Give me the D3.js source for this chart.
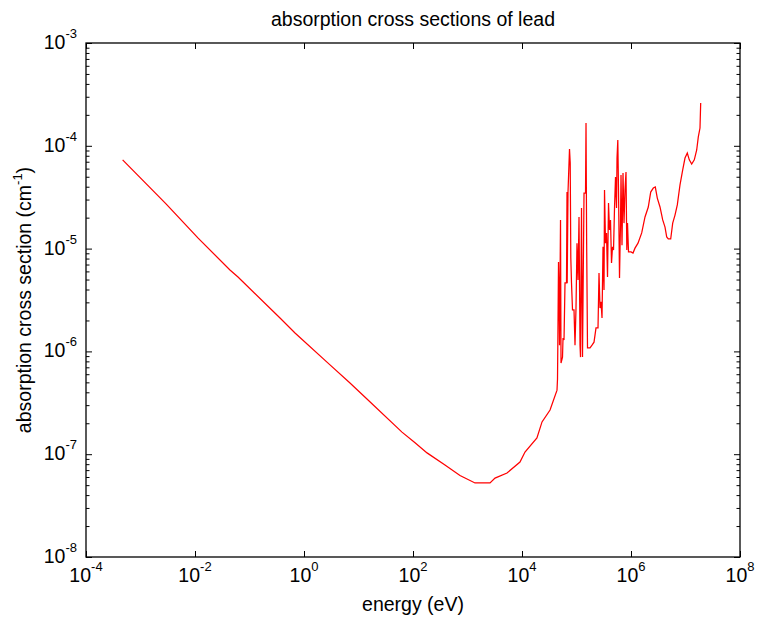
<!DOCTYPE html>
<html>
<head>
<meta charset="utf-8">
<script src="https://cdn.jsdelivr.net/npm/d3@7"></script>
<style>
  html, body { margin: 0; padding: 0; background: #fff; }
  svg { display: block; }
  text { font-family: "Liberation Sans", Arial, Helvetica, sans-serif; fill: #000; }
</style>
</head>
<body>
<svg id="chart" width="758" height="622"></svg>
<script>
// ---------------- data ----------------
const title = "absorption cross sections of lead";
const xLabel = "energy (eV)";
const yLabelMain = "absorption cross section (cm";
const yLabelSup = "-1";

const xTickValues = [1e-4, 1e-2, 1e0, 1e2, 1e4, 1e6, 1e8];
const xTickExponents = ["-4", "-2", "0", "2", "4", "6", "8"];
const yTickValues = [1e-8, 1e-7, 1e-6, 1e-5, 1e-4, 1e-3];
const yTickExponents = ["-8", "-7", "-6", "-5", "-4", "-3"];
const minorMultipliers = [2, 3, 4, 5, 6, 7, 8, 9];

// energy (eV)
const energy = [
  4.7e-4, 2.94e-3, 1.13e-2, 0.0438, 0.0615, 0.363, 0.684, 3.0, 6.98, 14.3,
  62.8, 109, 181, 386, 728, 1374, 2590, 3200, 5310, 9180,
  11350, 18800, 23300, 32700, 43890,
  44830, 45410, 46770, 47770, 48790, 50900, 51990, 55380, 56560, 59000,
  61540, 65560, 66970, 67500, 69860, 74420, 76660, 78630, 80980, 84470, 90000,
  93890, 97950, 102100, 106600, 111200, 116000, 118500, 123600, 128900, 131700,
  137400, 146400, 149500, 153300, 159200, 177000, 192600, 209600, 228000, 248100,
  258800, 270100, 281700, 293900, 306500, 319800, 326600, 340700, 355400, 370700,
  386700, 403400, 420700, 438900, 457800, 477700, 498300, 519900, 542300, 553800,
  572800, 589900, 615400, 641900, 655700, 683900, 713500, 744200, 776200, 809800,
  837700, 862800, 900000, 1.0e6, 1.088e6, 1.184e6, 1.344e6, 1.572e6, 1.807e6, 2.077e6,
  2.299e6, 2.566e6, 2.792e6, 3.038e6, 3.405e6, 3.817e6, 4.207e6, 4.519e6, 4.835e6, 5.350e6,
  5.823e6, 6.418e6, 7.073e6, 7.927e6, 8.885e6, 9.790e6, 1.079e7, 1.174e7, 1.299e7, 1.450e7,
  1.605e7, 1.718e7, 1.845e7, 1.900e7
];
// absorption cross section (cm^-1)
const crossSection = [
  7.3e-5, 2.72e-5, 1.27e-5, 6.2e-6, 5.3e-6, 2.11e-6, 1.51e-6, 7.4e-7, 4.93e-7, 3.44e-7,
  1.64e-7, 1.29e-7, 1.03e-7, 7.85e-8, 6.2e-8, 5.25e-8, 5.25e-8, 5.86e-8, 6.56e-8, 8.4e-8,
  1.05e-7, 1.44e-7, 2.06e-7, 2.69e-7, 4.2e-7,
  5.4e-7, 1.13e-6, 7.4e-6, 3.95e-6, 1.15e-6, 1.9e-5, 7.7e-7, 8.8e-7, 1.35e-6, 1.29e-6,
  4.63e-6, 4.63e-6, 3.55e-5, 4.6e-6, 3.55e-5, 9.3e-5, 6.8e-5, 8.1e-6, 4.63e-6, 2.53e-6, 2.53e-6,
  1.15e-6, 2.64e-6, 1.13e-5, 4.95e-6, 2.03e-5, 1.15e-6, 8.8e-7, 2.48e-5, 8.8e-7, 3.16e-6,
  3.47e-5, 3.47e-5, 1.67e-4, 1.27e-5, 1.08e-6, 1.08e-6, 1.15e-6, 1.23e-6, 1.69e-6, 1.69e-6,
  5.8e-6, 2.64e-6, 3.03e-6, 2.11e-6, 1.04e-5, 3.95e-6, 3.71e-5, 1.13e-5, 1.42e-5, 5.3e-6,
  2.78e-5, 1.52e-5, 1.9e-5, 7.24e-6, 1.04e-5, 9.7e-6, 2.48e-5, 4.97e-5, 2.48e-5, 7.6e-5,
  1.14e-4, 3.71e-5, 5.18e-6, 1.77e-5, 5.2e-5, 1.08e-5, 5.44e-5, 1.77e-5, 3.71e-5, 5.56e-5,
  9.7e-6, 1.77e-5, 9.3e-6, 9.3e-6, 9.06e-6, 1.01e-5, 1.13e-5, 1.42e-5, 2.03e-5, 2.54e-5,
  3.55e-5, 3.88e-5, 3.97e-5, 3.1e-5, 2.54e-5, 1.9e-5, 1.62e-5, 1.3e-5, 1.24e-5, 1.24e-5,
  1.77e-5, 2.12e-5, 2.66e-5, 4.16e-5, 5.82e-5, 7.6e-5, 8.5e-5, 7.3e-5, 6.65e-5, 7.3e-5,
  9.1e-5, 1.22e-4, 1.49e-4, 2.61e-4
];

// ---------------- layout ----------------
const W = 758, H = 622;
const plot = { left: 86, right: 740, top: 43, bottom: 557 };
const FONT = 19.5, SUP = 13;

const svg = d3.select("#chart");
svg.append("rect").attr("width", W).attr("height", H).attr("fill", "#fff");

const x = d3.scaleLog().domain([1e-4, 1e8]).range([plot.left, plot.right]);
const y = d3.scaleLog().domain([1e-8, 1e-3]).range([plot.bottom, plot.top]);

const yMinor = [];
yTickValues.slice(0, -1).forEach(v => minorMultipliers.forEach(m => yMinor.push(v * m)));

function styleAxis(g) {
  g.select(".domain").remove();
  g.selectAll(".tick line").attr("stroke", "#000").attr("stroke-width", 1);
  g.selectAll(".tick text").remove();
}

// x axes (bottom & top) – ticks pointing inward
svg.append("g").attr("transform", `translate(0,${plot.bottom})`)
  .call(d3.axisBottom(x).tickValues(xTickValues).tickSize(-6).tickSizeOuter(0).tickFormat(""))
  .call(styleAxis);
svg.append("g").attr("transform", `translate(0,${plot.top})`)
  .call(d3.axisTop(x).tickValues(xTickValues).tickSize(-6).tickSizeOuter(0).tickFormat(""))
  .call(styleAxis);

// y axes (left & right) major + minor
svg.append("g").attr("transform", `translate(${plot.left},0)`)
  .call(d3.axisLeft(y).tickValues(yTickValues).tickSize(-6).tickSizeOuter(0).tickFormat(""))
  .call(styleAxis);
svg.append("g").attr("transform", `translate(${plot.left},0)`)
  .call(d3.axisLeft(y).tickValues(yMinor).tickSize(-3.5).tickSizeOuter(0).tickFormat(""))
  .call(styleAxis);
svg.append("g").attr("transform", `translate(${plot.right},0)`)
  .call(d3.axisRight(y).tickValues(yTickValues).tickSize(-6).tickSizeOuter(0).tickFormat(""))
  .call(styleAxis);
svg.append("g").attr("transform", `translate(${plot.right},0)`)
  .call(d3.axisRight(y).tickValues(yMinor).tickSize(-3.5).tickSizeOuter(0).tickFormat(""))
  .call(styleAxis);

// frame
svg.append("rect")
  .attr("x", plot.left).attr("y", plot.top)
  .attr("width", plot.right - plot.left).attr("height", plot.bottom - plot.top)
  .attr("fill", "none").attr("stroke", "#000").attr("stroke-width", 1.3);

// data line
const pts = energy.map((e, i) => [e, crossSection[i]]);
svg.append("path")
  .datum(pts)
  .attr("fill", "none")
  .attr("stroke", "#ff0000")
  .attr("stroke-width", 1.25)
  .attr("stroke-linejoin", "miter")
  .attr("d", d3.line().x(d => x(d[0])).y(d => y(d[1])));

// x tick labels
const xl = svg.append("g").selectAll("text").data(xTickValues).join("text")
  .attr("x", d => x(d)).attr("y", plot.bottom + 25)
  .attr("text-anchor", "middle").attr("font-size", FONT);
xl.append("tspan").text("10");
xl.append("tspan").attr("dy", -11).attr("font-size", SUP).text((d, i) => xTickExponents[i]);

// y tick labels
const yl = svg.append("g").selectAll("text").data(yTickValues).join("text")
  .attr("x", plot.left - 9).attr("y", d => y(d) + 6)
  .attr("text-anchor", "end").attr("font-size", FONT);
yl.append("tspan").text("10");
yl.append("tspan").attr("dy", -11).attr("font-size", SUP).text((d, i) => yTickExponents[i]);

// title
svg.append("text")
  .attr("x", (plot.left + plot.right) / 2).attr("y", 26)
  .attr("text-anchor", "middle").attr("font-size", FONT)
  .text(title);

// x label
svg.append("text")
  .attr("x", (plot.left + plot.right) / 2).attr("y", 611)
  .attr("text-anchor", "middle").attr("font-size", FONT)
  .text(xLabel);

// y label
const yt = svg.append("text")
  .attr("transform", "rotate(-90)")
  .attr("x", -(plot.top + plot.bottom) / 2).attr("y", 31)
  .attr("text-anchor", "middle").attr("font-size", FONT);
yt.append("tspan").text(yLabelMain);
yt.append("tspan").attr("dy", -9).attr("font-size", SUP).text(yLabelSup);
yt.append("tspan").attr("dy", 9).text(")");
</script>
</body>
</html>
